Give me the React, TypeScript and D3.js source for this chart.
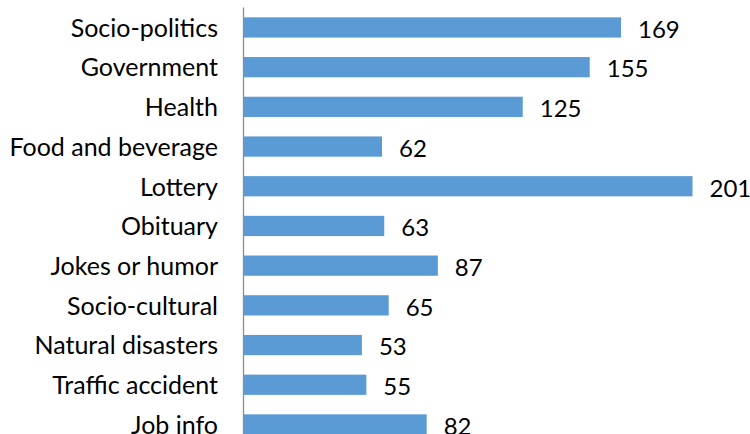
import React from "react";
import * as d3 from "d3";

const categories = [
  "Socio-politics",
  "Government",
  "Health",
  "Food and beverage",
  "Lottery",
  "Obituary",
  "Jokes or humor",
  "Socio-cultural",
  "Natural disasters",
  "Traffic accident",
  "Job info",
];
const values = [169, 155, 125, 62, 201, 63, 87, 65, 53, 55, 82];

const W = 750;
const H = 434;
const FONT = "Lato, 'Noto Sans', sans-serif";

export default function App() {
  const x = d3.scaleLinear().domain([0, 201]).range([243.5, 692.5]);
  const y = d3
    .scaleBand<string>()
    .domain(categories)
    .range([7.6, 444.3])
    .paddingInner(0.49)
    .paddingOuter(0.245);
  const bw = y.bandwidth();

  return (
    <svg
      width={W}
      height={H}
      style={{ position: "absolute", left: 0, top: 0, background: "#fff" }}
    >
      {categories.map((c, i) => {
        const y0 = y(c)!;
        const cy = y0 + bw / 2;
        return (
          <g key={c}>
            <rect
              x={x(0)}
              y={y0}
              width={x(values[i]) - x(0)}
              height={bw}
              fill="#5B9BD5"
            />
            <text
              x={218}
              y={cy + 9.3}
              textAnchor="end"
              fontFamily={FONT}
              fontSize={25}
              fill="#000"
            >
              {c}
            </text>
            <text
              x={x(values[i]) + 17}
              y={cy + 10.3}
              textAnchor="start"
              fontFamily={FONT}
              fontSize={24}
              fill="#000"
            >
              {values[i]}
            </text>
          </g>
        );
      })}
      <line
        x1={x(0)}
        x2={x(0)}
        y1={7.6}
        y2={444.3}
        stroke="#8C8C8C"
        strokeWidth={1.3}
      />
    </svg>
  );
}
